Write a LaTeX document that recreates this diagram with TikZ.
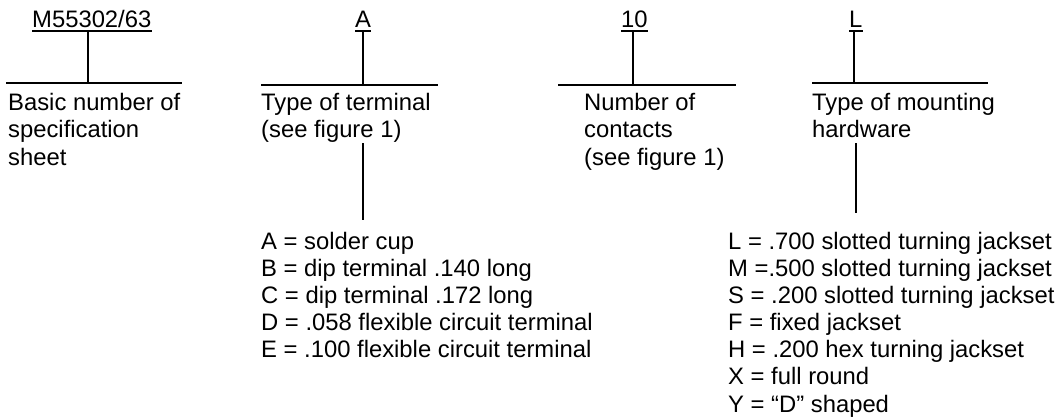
\documentclass[tikz,border=0pt]{standalone}
\usepackage{fontspec}
\setmainfont{Liberation Sans}
\begin{document}
\begin{tikzpicture}[x=1bp,y=-1bp,
  lbl/.style={anchor=base west, inner sep=0pt, font=\fontsize{23.9}{28}\selectfont},
  lst/.style={anchor=base west, inner sep=0pt, font=\fontsize{23.9}{27.3}\selectfont},
  rule/.style={line width=2bp}]
\useasboundingbox (0,0) rectangle (1059,419);
% codes
\node[lbl] (cM) at (32,27) {M55302/63};
\node[lbl] (cA) at (355,27) {A};
\node[lbl] (c10) at (621,27) {10};
\node[lbl] (cL) at (849,27) {L};
\foreach \n in {cM,cA,c10,cL}
  \draw[rule] ([yshift=-4bp]\n.base west) -- ([yshift=-4bp]\n.base east);
% rule coordinates
\coordinate (uM) at (88,31);  \coordinate (hM) at (88,83);
\coordinate (hMl) at (6,83);  \coordinate (hMr) at (182,83);
\coordinate (uA) at (363,31); \coordinate (hA) at (363,85);
\coordinate (hAl) at (261,85); \coordinate (hAr) at (438,85);
\coordinate (u10) at (633,31); \coordinate (h10) at (633,85);
\coordinate (h10l) at (558,85); \coordinate (h10r) at (736,85);
\coordinate (uL) at (854,31); \coordinate (hL) at (854,83);
\coordinate (hLl) at (812,83); \coordinate (hLr) at (988,83);
\draw[rule] (uM) -- (hM); \draw[rule] (hMl) -- (hMr);
\draw[rule] (uA) -- (hA); \draw[rule] (hAl) -- (hAr);
\draw[rule] (u10) -- (h10); \draw[rule] (h10l) -- (h10r);
\draw[rule] (uL) -- (hL); \draw[rule] (hLl) -- (hLr);
% descriptions
\node[lbl] (dM) at (8,110) {\vtop{\hbox{Basic number of}\hbox{specification}\hbox{sheet}}};
\node[lbl] (dA) at (261,110) {\vtop{\hbox{Type of terminal}\hbox{(see figure 1)}}};
\node[lbl] (d10) at (584,110) {\vtop{\hbox{Number of}\hbox{contacts}\hbox{(see figure 1)}}};
\node[lbl] (dL) at (812,110) {\vtop{\hbox{Type of mounting}\hbox{hardware}}};
% lower connectors
\coordinate (aTop) at (363,143); \coordinate (aBot) at (363,220);
\coordinate (lTop) at (856,143); \coordinate (lBot) at (856,213);
\draw[rule] (aTop) -- (aBot);
\draw[rule] (lTop) -- (lBot);
% lists
\node[lst] (lA) at (261,249) {\vtop{\hbox{A = solder cup}\hbox{B = dip terminal .140 long}\hbox{C = dip terminal .172 long}\hbox{D = .058 flexible circuit terminal}\hbox{E = .100 flexible circuit terminal}}};
\node[lst] (lL) at (728,249) {\vtop{\hbox{L = .700 slotted turning jackset}\hbox{M =.500 slotted turning jackset}\hbox{S = .200 slotted turning jackset}\hbox{F = fixed jackset}\hbox{H = .200 hex turning jackset}\hbox{X = full round}\hbox{Y = “D” shaped}}};
\end{tikzpicture}
\end{document}
